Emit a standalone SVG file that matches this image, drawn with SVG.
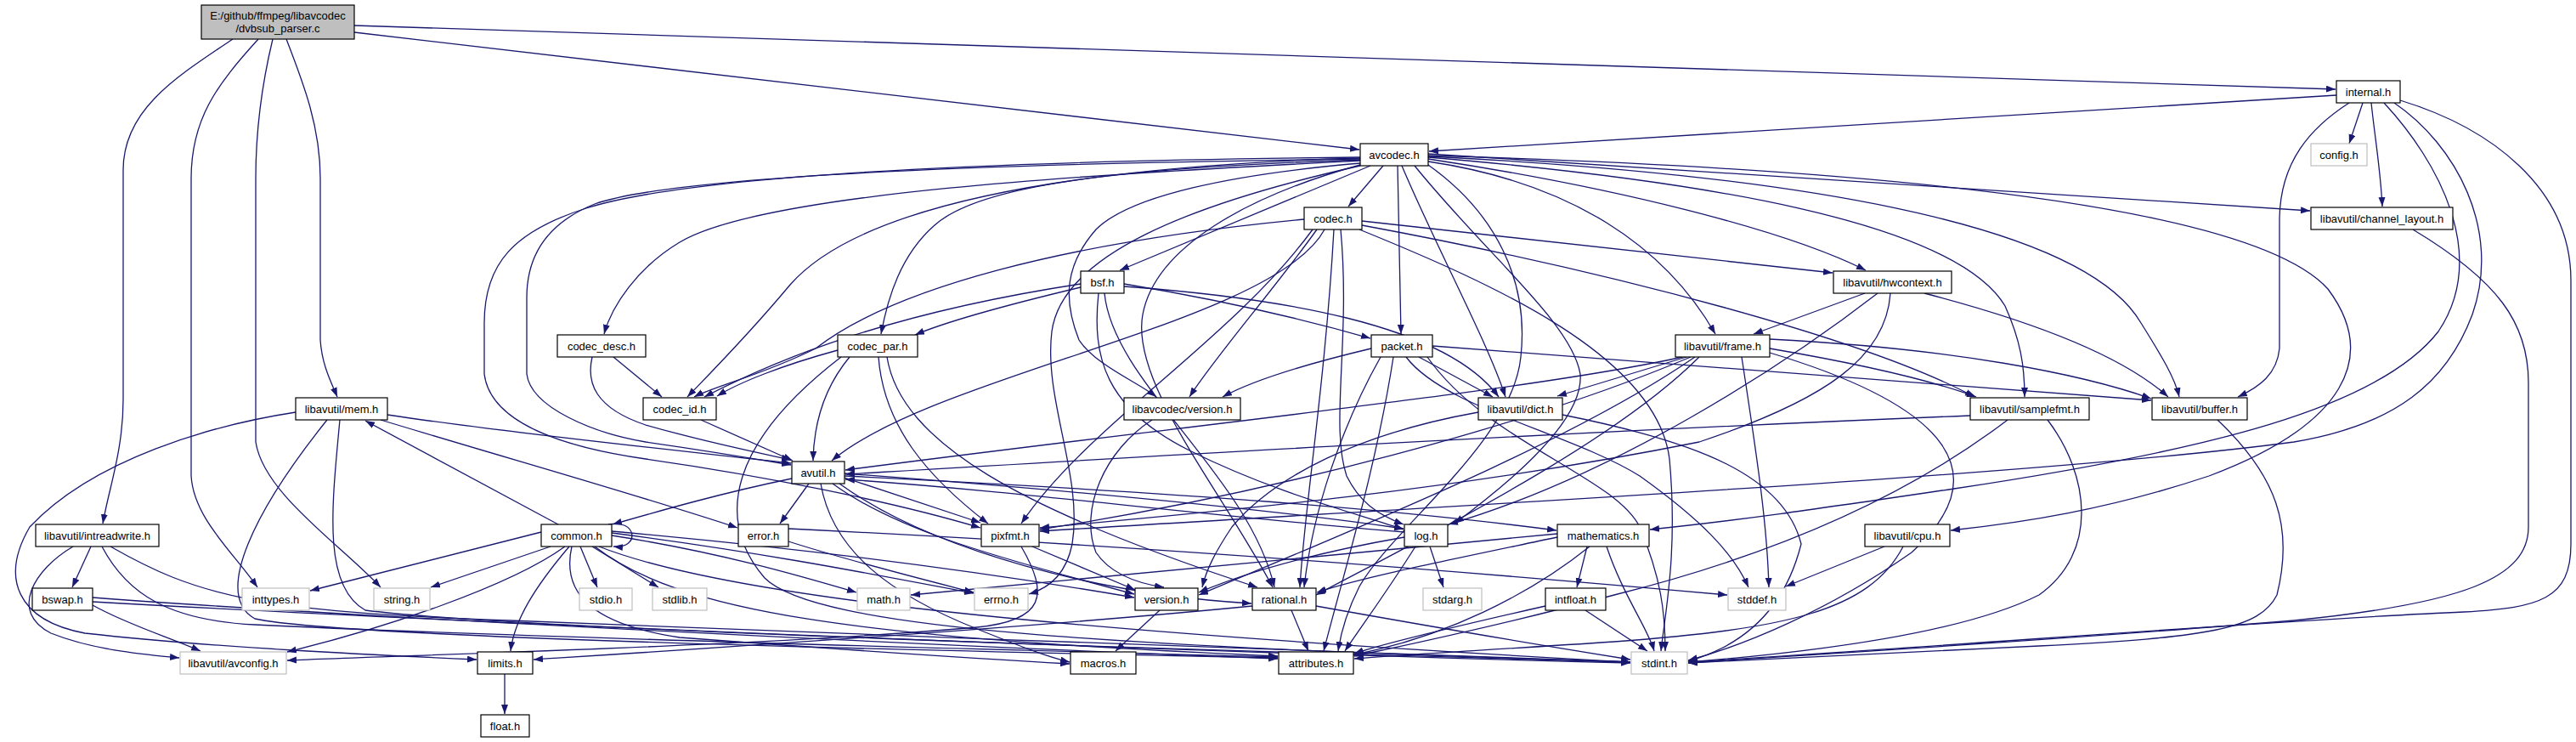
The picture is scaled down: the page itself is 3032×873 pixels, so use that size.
<svg xmlns="http://www.w3.org/2000/svg" width="3032" height="873" viewBox="0 0 3032 873">
<style>
.n rect{fill:#fff;stroke:#000;stroke-width:1.2}
.g rect{fill:#fff;stroke:#bfbfbf;stroke-width:1.2}
.r rect{fill:#bfbfbf;stroke:#000;stroke-width:1.2}
text{font-family:"Liberation Sans",Arial,sans-serif;font-size:13px;fill:#000;text-anchor:middle}
#edges path{fill:none;stroke:#191970;stroke-width:1.3;marker-end:url(#a)}
</style>
<defs>
<marker id="a" markerWidth="12" markerHeight="10" refX="11" refY="4" orient="auto" markerUnits="userSpaceOnUse"><path d="M0,0L11,4L0,8z" fill="#191970"/></marker>
</defs>
<rect width="3032" height="873" fill="#fff"/>
<g id="edges">
<path d="M417,30 L2749,105"/>
<path d="M417,38 L1600,176"/>
<path d="M274,46 C205,92 145,130 145,200 L145,470 C145,530 128,575 121,616"/>
<path d="M304,46 C255,100 225,140 225,210 L225,560 C228,610 275,650 303,691"/>
<path d="M321,46 C308,100 301,150 301,210 L301,520 C310,580 400,640 448,691"/>
<path d="M337,46 C358,100 377,150 377,210 L377,400 C379,430 390,450 397,467"/>
<path d="M2750,112 L1682,178"/>
<path d="M2781,121 L2765,169"/>
<path d="M2791,121 C2795,160 2802,200 2804,243"/>
<path d="M2765,121 C2720,150 2683,190 2683,260 L2683,410 C2680,440 2660,455 2634,467"/>
<path d="M2825,118 C2930,150 3026,220 3026,330 L3026,640 C3026,705 2990,715 2900,720 C2700,728 2300,760 1987,779"/>
<path d="M2806,121 C2870,190 2930,300 2870,390 C2800,480 2600,530 2300,575 C2150,597 2050,612 1942,623"/>
<path d="M2818,121 C2890,170 2945,270 2910,370 C2880,450 2820,500 2700,520 C2400,560 1700,595 1224,625"/>
<path d="M1628,195 L1587,243"/>
<path d="M1613,195 L1318,318"/>
<path d="M1601,189 C1300,205 900,225 800,285 C750,315 720,360 711,393"/>
<path d="M1601,188 C1300,198 1150,220 1100,265 C1060,300 1045,350 1037,393"/>
<path d="M1601,186 C1200,198 1000,255 930,335 C880,395 835,440 809,467"/>
<path d="M1645,195 L1649,393"/>
<path d="M1681,190 C1850,215 1960,290 2019,393"/>
<path d="M1681,187 C1900,220 2100,270 2196,318"/>
<path d="M1681,181 L2719,248"/>
<path d="M1650,195 C1690,290 1750,400 1772,467"/>
<path d="M1601,192 C1450,205 1330,230 1290,270 C1255,310 1250,350 1270,400 C1290,430 1340,450 1361,467"/>
<path d="M1681,185 C2000,212 2300,260 2360,360 C2378,400 2383,430 2383,467"/>
<path d="M1681,184 C2100,205 2450,260 2520,380 C2545,420 2560,445 2565,467"/>
<path d="M1681,183 C2200,198 2650,240 2740,340 C2800,420 2760,500 2600,560 C2480,600 2380,615 2296,624"/>
<path d="M1601,187 C1200,192 800,205 700,240 C645,262 620,300 620,350 L620,440 C625,480 700,510 760,520 C830,530 890,540 931,547"/>
<path d="M1601,185 C1100,190 800,210 690,245 C605,272 570,310 570,380 L570,440 C575,480 620,520 760,540 C900,560 1050,590 1154,621"/>
<path d="M1665,195 C1750,300 1850,380 1860,440 C1865,500 1760,580 1712,616"/>
<path d="M1601,194 C1470,230 1360,290 1345,370 C1330,450 1440,580 1498,691"/>
<path d="M1681,194 C1760,250 1800,330 1790,420 C1780,520 1640,620 1600,690 C1585,720 1578,745 1575,766"/>
<path d="M1601,195 C1400,240 1250,300 1238,390 C1228,470 1275,560 1262,640 C1255,675 1235,692 1211,699"/>
<path d="M1603,260 L2157,321"/>
<path d="M1603,265 C1900,320 2200,400 2324,467"/>
<path d="M1600,270 C1760,335 1950,420 1965,540 C1975,650 1960,720 1955,766"/>
<path d="M1578,270 C1590,400 1565,500 1585,560 C1600,590 1620,605 1652,617"/>
<path d="M1545,270 C1450,400 1280,500 1202,616"/>
<path d="M1570,270 C1560,450 1535,600 1530,691"/>
<path d="M1535,258 C1250,285 1050,340 960,410 C900,440 840,455 817,467"/>
<path d="M1550,270 C1500,340 1430,420 1400,467"/>
<path d="M1559,270 C1500,380 1100,440 979,542"/>
<path d="M1272,338 C1180,360 1110,380 1077,394"/>
<path d="M1323,334 C1450,355 1550,380 1613,398"/>
<path d="M1323,337 C1500,350 1700,380 1764,467"/>
<path d="M1272,334 C1050,368 920,420 829,467"/>
<path d="M1293,345 C1285,420 1300,480 1400,530 C1500,580 1600,605 1652,623"/>
<path d="M1300,345 C1310,450 1470,560 1500,691"/>
<path d="M2195,345 L2064,393"/>
<path d="M2265,345 C2400,380 2500,420 2552,467"/>
<path d="M2210,345 C2100,430 1900,560 1705,617"/>
<path d="M2225,345 C2220,420 2150,470 2000,520 C1700,580 1400,605 1224,621"/>
<path d="M722,420 L779,467"/>
<path d="M697,420 C690,450 700,480 760,500 C830,520 880,530 931,541"/>
<path d="M986,412 C920,430 870,450 844,466"/>
<path d="M1000,420 C975,450 958,490 957,542"/>
<path d="M1034,420 C1040,500 1090,560 1163,616"/>
<path d="M1044,420 C1060,520 1200,600 1480,691"/>
<path d="M990,420 C860,520 840,610 900,680 C960,740 1300,760 1919,779"/>
<path d="M1614,410 C1530,430 1470,450 1439,467"/>
<path d="M1670,420 L1757,467"/>
<path d="M1686,407 L2532,471"/>
<path d="M1640,420 C1620,550 1580,680 1558,766"/>
<path d="M1625,420 C1580,500 1545,600 1535,691"/>
<path d="M1655,420 C1700,480 1850,510 1930,560 C2000,610 2040,650 2058,691"/>
<path d="M1680,420 C1750,520 1900,560 1930,620 C1955,680 1960,720 1960,766"/>
<path d="M1985,420 L1833,466"/>
<path d="M2083,399 C2300,410 2450,440 2532,469"/>
<path d="M2083,410 C2200,430 2280,450 2326,467"/>
<path d="M2050,420 C2070,550 2080,620 2082,691"/>
<path d="M2083,415 C2300,480 2350,560 2250,650 C2150,720 2050,760 1987,777"/>
<path d="M1980,420 C1800,460 1400,500 995,553"/>
<path d="M2000,420 C1900,520 1700,620 1549,700"/>
<path d="M1990,420 C1800,500 1500,580 1224,623"/>
<path d="M1995,420 C1850,520 1600,620 1411,700"/>
<path d="M348,485 C250,500 110,540 35,620 C0,680 20,730 100,745 C250,762 450,771 561,776"/>
<path d="M448,494 C600,540 760,585 868,621"/>
<path d="M456,488 C600,510 800,530 931,545"/>
<path d="M400,494 C390,600 380,690 430,718 C600,740 1400,765 1919,779"/>
<path d="M385,494 C300,600 250,700 300,728 C400,750 1100,766 1504,774"/>
<path d="M825,494 L933,542"/>
<path d="M1356,494 C1300,530 1270,600 1290,650 C1310,680 1350,688 1370,691"/>
<path d="M1740,485 C1600,510 1500,560 1450,620 C1430,650 1420,670 1415,691"/>
<path d="M1839,488 C2000,520 2100,560 2120,640 C2100,720 2050,760 1987,778"/>
<path d="M2319,489 C1800,510 1300,540 995,558"/>
<path d="M2410,494 C2460,560 2470,650 2400,700 C2300,750 2100,770 1987,779"/>
<path d="M2363,494 C2250,580 2100,650 1900,700 C1750,740 1650,760 1594,772"/>
<path d="M2610,494 C2680,560 2700,620 2680,700 C2660,740 2600,750 2400,760 C2200,770 2050,778 1987,780"/>
<path d="M2840,270 C2940,330 2976,380 2976,450 L2976,620 C2976,680 2900,710 2700,730 C2400,755 2100,772 1987,780"/>
<path d="M932,563 C850,580 780,600 721,617"/>
<path d="M952,569 L918,616"/>
<path d="M994,562 L1154,615"/>
<path d="M994,557 C1300,580 1500,600 1652,622"/>
<path d="M994,560 C1400,580 1650,600 1832,624"/>
<path d="M980,569 C1050,620 1150,650 1335,699"/>
<path d="M988,569 C1100,650 1300,700 1473,710"/>
<path d="M966,569 C980,650 1050,700 1150,740 C1200,760 1230,772 1259,779"/>
<path d="M107,643 L85,691"/>
<path d="M86,643 C40,670 10,720 60,745 C110,765 170,770 211,774"/>
<path d="M120,643 C150,700 200,730 300,735 C600,750 1200,765 1504,773"/>
<path d="M130,643 C230,700 300,720 600,730 C1000,745 1600,770 1919,779"/>
<path d="M657,617 L430,495"/>
<path d="M716,617 C750,610 754,646 722,643"/>
<path d="M637,626 L365,695"/>
<path d="M648,643 L507,691"/>
<path d="M683,643 L703,691"/>
<path d="M697,643 L775,691"/>
<path d="M665,643 C600,690 450,740 338,767"/>
<path d="M670,643 C630,690 605,730 601,766"/>
<path d="M720,630 C850,650 950,680 1008,697"/>
<path d="M720,627 C900,650 1050,680 1146,698"/>
<path d="M720,625 C1000,650 1200,680 1335,703"/>
<path d="M673,643 C660,700 700,735 800,750 C1000,765 1150,775 1259,781"/>
<path d="M700,643 C800,720 1000,750 1504,772"/>
<path d="M705,643 C850,700 1200,740 1919,779"/>
<path d="M928,637 C1000,660 1080,680 1146,697"/>
<path d="M928,622 C1300,640 1700,670 2033,700"/>
<path d="M1215,643 L1336,694"/>
<path d="M1202,643 C1235,700 1230,730 1150,738 C900,760 500,770 338,777"/>
<path d="M1683,643 L1699,691"/>
<path d="M1653,626 C1400,605 1200,578 995,564"/>
<path d="M1666,643 C1630,700 1600,740 1583,766"/>
<path d="M1653,632 C1550,650 1470,672 1411,697"/>
<path d="M1868,643 L1856,691"/>
<path d="M1891,643 C1910,700 1940,740 1947,766"/>
<path d="M1833,632 C1700,660 1600,680 1550,697"/>
<path d="M1871,643 C1800,700 1700,750 1594,770"/>
<path d="M1833,628 C1500,660 1200,690 1072,700"/>
<path d="M2218,643 L2102,690"/>
<path d="M2240,643 C2200,720 2100,740 1900,755 C1750,765 1650,770 1594,775"/>
<path d="M109,712 C150,735 200,750 236,766"/>
<path d="M109,703 C400,725 1100,760 1504,775"/>
<path d="M109,708 C500,730 1300,765 1919,780"/>
<path d="M1474,713 C1200,740 800,765 628,776"/>
<path d="M1520,718 L1540,766"/>
<path d="M1549,713 C1700,740 1850,765 1919,776"/>
<path d="M1365,718 L1313,766"/>
<path d="M1866,718 L1939,766"/>
<path d="M1819,713 C1700,740 1620,760 1594,769"/>
<path d="M594,793 L594,840"/>
</g>
<g id="n-root" class="r"><rect x="237" y="6" width="180" height="40"/><text x="327" y="23">E:/github/ffmpeg/libavcodec</text><text x="327" y="38">/dvbsub_parser.c</text></g>
<g id="n-internal" class="n"><rect x="2750" y="95" width="75" height="26"/><text x="2787.5" y="113">internal.h</text></g>
<g id="n-avcodec" class="n"><rect x="1601" y="169" width="80" height="26"/><text x="1641" y="187">avcodec.h</text></g>
<g id="n-config" class="g"><rect x="2720" y="169" width="66" height="26"/><text x="2753" y="187">config.h</text></g>
<g id="n-codec" class="n"><rect x="1535" y="244" width="68" height="26"/><text x="1569" y="262">codec.h</text></g>
<g id="n-channel_layout" class="n"><rect x="2720" y="244" width="167" height="26"/><text x="2803.5" y="262">libavutil/channel_layout.h</text></g>
<g id="n-bsf" class="n"><rect x="1272" y="319" width="51" height="26"/><text x="1297.5" y="337">bsf.h</text></g>
<g id="n-hwcontext" class="n"><rect x="2158" y="319" width="139" height="26"/><text x="2227.5" y="337">libavutil/hwcontext.h</text></g>
<g id="n-codec_desc" class="n"><rect x="656" y="394" width="104" height="26"/><text x="708" y="412">codec_desc.h</text></g>
<g id="n-codec_par" class="n"><rect x="986" y="394" width="94" height="26"/><text x="1033" y="412">codec_par.h</text></g>
<g id="n-packet" class="n"><rect x="1614" y="394" width="72" height="26"/><text x="1650" y="412">packet.h</text></g>
<g id="n-frame" class="n"><rect x="1972" y="394" width="111" height="26"/><text x="2027.5" y="412">libavutil/frame.h</text></g>
<g id="n-mem" class="n"><rect x="348" y="468" width="108" height="26"/><text x="402" y="486">libavutil/mem.h</text></g>
<g id="n-codec_id" class="n"><rect x="757" y="468" width="86" height="26"/><text x="800" y="486">codec_id.h</text></g>
<g id="n-lavc_version" class="n"><rect x="1323" y="468" width="137" height="26"/><text x="1391.5" y="486">libavcodec/version.h</text></g>
<g id="n-dict" class="n"><rect x="1740" y="468" width="99" height="26"/><text x="1789.5" y="486">libavutil/dict.h</text></g>
<g id="n-samplefmt" class="n"><rect x="2319" y="468" width="140" height="26"/><text x="2389" y="486">libavutil/samplefmt.h</text></g>
<g id="n-buffer" class="n"><rect x="2533" y="468" width="112" height="26"/><text x="2589" y="486">libavutil/buffer.h</text></g>
<g id="n-avutil" class="n"><rect x="932" y="543" width="62" height="26"/><text x="963" y="561">avutil.h</text></g>
<g id="n-intreadwrite" class="n"><rect x="42" y="617" width="145" height="26"/><text x="114.5" y="635">libavutil/intreadwrite.h</text></g>
<g id="n-common" class="n"><rect x="637" y="617" width="83" height="26"/><text x="678.5" y="635">common.h</text></g>
<g id="n-error" class="n"><rect x="869" y="617" width="59" height="26"/><text x="898.5" y="635">error.h</text></g>
<g id="n-pixfmt" class="n"><rect x="1155" y="617" width="68" height="26"/><text x="1189" y="635">pixfmt.h</text></g>
<g id="n-log" class="n"><rect x="1653" y="617" width="51" height="26"/><text x="1678.5" y="635">log.h</text></g>
<g id="n-mathematics" class="n"><rect x="1833" y="617" width="108" height="26"/><text x="1887" y="635">mathematics.h</text></g>
<g id="n-cpu" class="n"><rect x="2195" y="617" width="100" height="26"/><text x="2245" y="635">libavutil/cpu.h</text></g>
<g id="n-bswap" class="n"><rect x="38" y="692" width="71" height="26"/><text x="73.5" y="710">bswap.h</text></g>
<g id="n-inttypes" class="g"><rect x="285" y="692" width="79" height="26"/><text x="324.5" y="710">inttypes.h</text></g>
<g id="n-string" class="g"><rect x="440" y="692" width="66" height="26"/><text x="473" y="710">string.h</text></g>
<g id="n-stdio" class="g"><rect x="682" y="692" width="62" height="26"/><text x="713" y="710">stdio.h</text></g>
<g id="n-stdlib" class="g"><rect x="768" y="692" width="64" height="26"/><text x="800" y="710">stdlib.h</text></g>
<g id="n-math" class="g"><rect x="1009" y="692" width="62" height="26"/><text x="1040" y="710">math.h</text></g>
<g id="n-errno" class="g"><rect x="1147" y="692" width="63" height="26"/><text x="1178.5" y="710">errno.h</text></g>
<g id="n-version" class="n"><rect x="1336" y="692" width="74" height="26"/><text x="1373" y="710">version.h</text></g>
<g id="n-rational" class="n"><rect x="1474" y="692" width="75" height="26"/><text x="1511.5" y="710">rational.h</text></g>
<g id="n-stdarg" class="g"><rect x="1675" y="692" width="69" height="26"/><text x="1709.5" y="710">stdarg.h</text></g>
<g id="n-intfloat" class="n"><rect x="1819" y="692" width="71" height="26"/><text x="1854.5" y="710">intfloat.h</text></g>
<g id="n-stddef" class="g"><rect x="2034" y="692" width="68" height="26"/><text x="2068" y="710">stddef.h</text></g>
<g id="n-avconfig" class="g"><rect x="212" y="767" width="125" height="26"/><text x="274.5" y="785">libavutil/avconfig.h</text></g>
<g id="n-limits" class="n"><rect x="562" y="767" width="65" height="26"/><text x="594.5" y="785">limits.h</text></g>
<g id="n-macros" class="n"><rect x="1260" y="767" width="77" height="26"/><text x="1298.5" y="785">macros.h</text></g>
<g id="n-attributes" class="n"><rect x="1505" y="767" width="88" height="26"/><text x="1549" y="785">attributes.h</text></g>
<g id="n-stdint" class="g"><rect x="1920" y="767" width="66" height="26"/><text x="1953" y="785">stdint.h</text></g>
<g id="n-float" class="n"><rect x="566" y="841" width="57" height="26"/><text x="594.5" y="859">float.h</text></g>
</svg>
